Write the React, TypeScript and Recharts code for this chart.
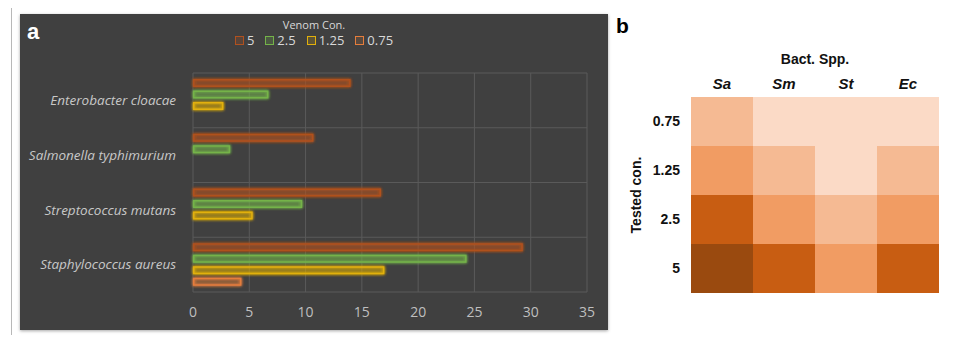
import { BarChart, Bar, XAxis, YAxis, CartesianGrid, Legend, Cell } from 'recharts'

// panel a: inhibition zones per species and venom concentration
const species = ['Enterobacter cloacae', 'Salmonella typhimurium', 'Streptococcus mutans', 'Staphylococcus aureus']
const venom5 = [14.0, 10.7, 16.7, 29.3]
const venom25 = [6.7, 3.3, 9.7, 24.3]
const venom125 = [2.7, 0, 5.3, 17.0]
const venom075 = [0, 0, 0, 4.3]
const xTicks = [0, 5, 10, 15, 20, 25, 30, 35]

// panel b: heatmap levels (1 = lightest, 5 = darkest)
const bacteria = ['Sa', 'Sm', 'St', 'Ec']
const testedCon = ['0.75', '1.25', '2.5', '5']
const heat075 = [2, 1, 1, 1]
const heat125 = [3, 2, 1, 2]
const heat25 = [4, 3, 2, 3]
const heat5 = [5, 4, 3, 4]

const HEAT_COLORS: Record<number, string> = {
  1: '#fbdac6',
  2: '#f5ba93',
  3: '#f19c63',
  4: '#c85d12',
  5: '#9a4a0f',
}

const SERIES = [
  { key: 'v5', label: '5', stroke: '#b0511f', fill: 'rgba(176,81,31,0.22)' },
  { key: 'v25', label: '2.5', stroke: '#74b349', fill: 'rgba(112,173,71,0.22)' },
  { key: 'v125', label: '1.25', stroke: '#e2b00c', fill: 'rgba(226,176,12,0.18)' },
  { key: 'v075', label: '0.75', stroke: '#e57d3c', fill: 'rgba(229,125,60,0.14)' },
]

const speciesData = species.map((name, i) => ({
  name,
  v5: venom5[i],
  v25: venom25[i],
  v125: venom125[i],
  v075: venom075[i],
}))

// each heatmap cell spans one unit of the stacked axis
const CELL_SPAN = 1
const heatRows = [
  { key: 'c5', levels: heat5 },
  { key: 'c25', levels: heat25 },
  { key: 'c125', levels: heat125 },
  { key: 'c075', levels: heat075 },
]
const heatData = bacteria.map((name) => {
  const row: any = { name }
  heatRows.forEach((r) => (row[r.key] = CELL_SPAN))
  return row
})
const heatTicks = testedCon.map((_, i) => i + CELL_SPAN / 2)

const GlowBar = (props: any) => {
  const { x, y, width, height, s } = props
  if (!width || width <= 0) return null
  return (
    <rect
      x={x + 0.75}
      y={y + 0.75}
      width={Math.max(width - 1.5, 0)}
      height={height - 1.5}
      fill={s.fill}
      stroke={s.stroke}
      strokeWidth={1.5}
      filter="url(#barGlow)"
    />
  )
}

const VenomLegend = () => (
  <div style={{ fontFamily: '"Open Sans", sans-serif', color: '#d9d9d9', textAlign: 'center', height: 32 }}>
    <div style={{ fontSize: 11, lineHeight: '14px' }}>Venom Con.</div>
    <div style={{ display: 'flex', justifyContent: 'center', gap: 11, fontSize: 13, lineHeight: '17px' }}>
      {SERIES.map((s) => (
        <span key={s.key} style={{ display: 'flex', alignItems: 'center', gap: 3 }}>
          <span style={{ width: 7, height: 7, border: `1.5px solid ${s.stroke}`, background: s.fill, display: 'inline-block' }} />
          {s.label}
        </span>
      ))}
    </div>
  </div>
)

export default function App() {
  return (
    <div style={{ position: 'relative', width: 969, height: 343, margin: -8, background: '#fff', overflow: 'hidden' }}>
      {/* outer frame */}
      <div style={{ position: 'absolute', left: 10, right: 0, top: 6, borderTop: '1.5px solid #9c9c9c' }} />
      <div style={{ position: 'absolute', left: 11, top: 6, bottom: 0, borderLeft: '1.5px solid #b8b8b8' }} />

      {/* panel a */}
      <div style={{
        position: 'absolute', left: 20, top: 14, width: 588, height: 316,
        background: '#404040', boxShadow: '0 1px 3px rgba(0,0,0,0.35)',
      }}>
        <BarChart
          width={588}
          height={316}
          data={speciesData}
          layout="vertical"
          margin={{ top: 27, right: 21, bottom: 8, left: 0 }}
          barCategoryGap={6}
          barGap={3.5}
        >
          <defs>
            <filter id="barGlow" x="-10%" y="-80%" width="120%" height="260%">
              <feGaussianBlur in="SourceGraphic" stdDeviation="1.6" result="blur" />
              <feMerge>
                <feMergeNode in="blur" />
                <feMergeNode in="blur" />
                <feMergeNode in="SourceGraphic" />
              </feMerge>
            </filter>
          </defs>
          <CartesianGrid
            stroke="#5a5a5a"
            strokeWidth={1}
            horizontalCoordinatesGenerator={({ offset }: any) =>
              Array.from({ length: species.length + 1 }, (_, i) => offset.top + (i * offset.height) / species.length)
            }
          />
          <XAxis
            type="number"
            domain={[0, 35]}
            ticks={xTicks}
            axisLine={false}
            tickLine={false}
            tickMargin={9}
            height={30}
            tick={{ fill: '#bfbfbf', fontSize: 14, fontFamily: '"Open Sans", sans-serif' }}
          />
          <YAxis
            type="category"
            dataKey="name"
            width={173}
            axisLine={false}
            tickLine={false}
            tickMargin={11}
            tick={{ fill: '#c8c8c8', fontSize: 13.5, fontStyle: 'italic', fontFamily: '"Open Sans", sans-serif' }}
          />
          <Legend verticalAlign="top" wrapperStyle={{ top: 4, left: 0, width: 588 }} content={() => <VenomLegend />} />
          {SERIES.map((s) => (
            <Bar
              key={s.key}
              dataKey={s.key}
              name={s.label}
              barSize={8}
              fill={s.fill}
              isAnimationActive={false}
              shape={(p: any) => <GlowBar {...p} s={s} />}
            />
          ))}
        </BarChart>
      </div>
      <div style={{
        position: 'absolute', left: 27, top: 19, color: '#fff', fontWeight: 700,
        fontSize: 22, fontFamily: '"Liberation Sans", Arial, sans-serif',
      }}>a</div>

      {/* panel b */}
      <div style={{
        position: 'absolute', left: 616, top: 14, color: '#000', fontWeight: 700,
        fontSize: 21, fontFamily: '"Liberation Sans", Arial, sans-serif',
      }}>b</div>
      <div style={{
        position: 'absolute', left: 691, width: 248, top: 51, textAlign: 'center', color: '#111', fontWeight: 700,
        fontSize: 14, fontFamily: '"Liberation Sans", Arial, sans-serif',
      }}>Bact. Spp.</div>
      <div style={{
        position: 'absolute', left: 596, top: 187, width: 80, textAlign: 'center', color: '#111', fontWeight: 700,
        fontSize: 14, fontFamily: '"Liberation Sans", Arial, sans-serif', transform: 'rotate(-90deg)',
      }}>Tested con.</div>
      <div style={{ position: 'absolute', left: 610, top: 40 }}>
        <BarChart
          width={350}
          height={263}
          data={heatData}
          margin={{ top: 27, right: 21, bottom: 10, left: 0 }}
          barCategoryGap={0}
          barGap={0}
        >
          <XAxis
            dataKey="name"
            orientation="top"
            axisLine={false}
            tickLine={false}
            tickMargin={2}
            height={30}
            tick={{ fill: '#111', fontSize: 15, fontWeight: 700, fontStyle: 'italic', fontFamily: '"Liberation Sans", Arial, sans-serif' }}
          />
          <YAxis
            type="number"
            domain={[0, testedCon.length * CELL_SPAN]}
            ticks={heatTicks}
            tickFormatter={(v: number) => testedCon[testedCon.length - 1 - Math.floor(v)]}
            width={81}
            axisLine={false}
            tickLine={false}
            tickMargin={5}
            tick={{ fill: '#111', fontSize: 14, fontWeight: 700, fontFamily: '"Liberation Sans", Arial, sans-serif' }}
          />
          {heatRows.map((r) => (
            <Bar key={r.key} dataKey={r.key} stackId="heat" isAnimationActive={false}>
              {r.levels.map((lv, i) => (
                <Cell key={`${r.key}-${i}`} fill={HEAT_COLORS[lv]} />
              ))}
            </Bar>
          ))}
        </BarChart>
      </div>
    </div>
  )
}
